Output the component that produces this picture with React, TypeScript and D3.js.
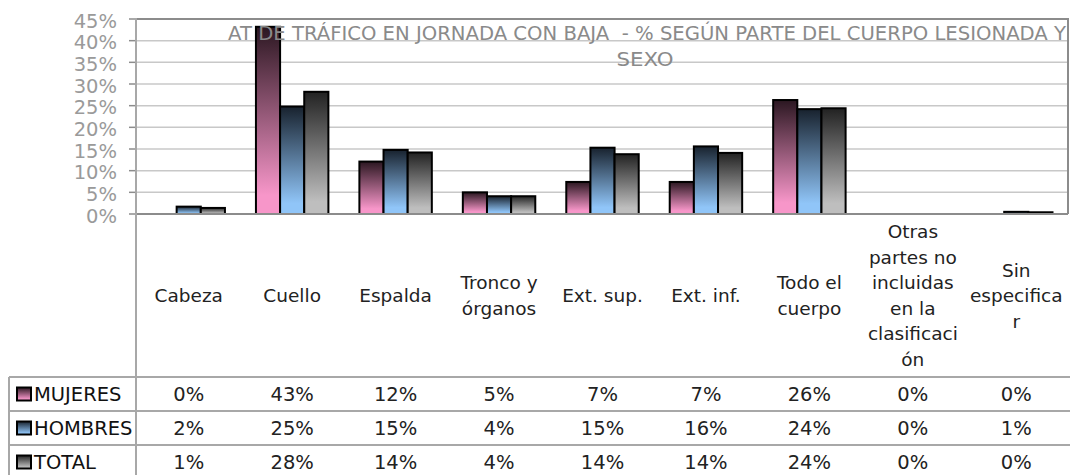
import React, { useEffect, useRef } from 'react'
import * as d3 from 'd3'

const categories = [
  'Cabeza',
  'Cuello',
  'Espalda',
  'Tronco y\nórganos',
  'Ext. sup.',
  'Ext. inf.',
  'Todo el\ncuerpo',
  'Otras\npartes no\nincluidas\nen la\nclasificaci\nón',
  'Sin\nespecifica\nr',
]
const seriesNames = ['MUJERES', 'HOMBRES', 'TOTAL']
const mujeres = [0, 43.2, 12.1, 5.0, 7.4, 7.4, 26.3, 0, 0]
const hombres = [1.7, 24.8, 14.8, 4.1, 15.3, 15.6, 24.2, 0, 0.5]
const total = [1.4, 28.2, 14.2, 4.1, 13.8, 14.1, 24.4, 0, 0.4]
const yTicks = [0, 5, 10, 15, 20, 25, 30, 35, 40, 45]
const titleLines = [
  'AT DE TRÁFICO EN JORNADA CON BAJA  - % SEGÚN PARTE DEL CUERPO LESIONADA Y',
  'SEXO',
]

// top (dark) and bottom (light) colours of each series gradient
const gradColors = [
  ['#2b1721', '#f796c9'],
  ['#18222e', '#90c5f8'],
  ['#222222', '#bebebe'],
]

export default function App() {
  const svgRef = useRef(null)

  let width = 1070
  let height = 475

  useEffect(() => {
    document.body.style.margin = '0'
    const font = '"DejaVu Sans", Verdana, sans-serif'

    let svg = d3.select(svgRef.current).attr('width', width).attr('height', height)
    svg.selectAll('*').remove()

    const left = 137
    const right = 1068
    const top = 19
    const base = 214
    const tableTop = 377
    const rowH = 34
    const tableLeft = 9

    let x = d3.scaleBand().domain(categories).range([left, right])
    let xs = d3
      .scaleBand()
      .domain(seriesNames)
      .range([15.5, x.bandwidth() - 15.5])
    let y = d3.scaleLinear().domain([0, 45]).range([base, top])

    let defs = svg.append('defs')
    gradColors.forEach((c, i) => {
      let g = defs
        .append('linearGradient')
        .attr('id', 'grad' + i)
        .attr('x1', 0)
        .attr('y1', 0)
        .attr('x2', 0)
        .attr('y2', 1)
      g.append('stop').attr('offset', 0).attr('stop-color', c[0])
      g.append('stop').attr('offset', 0.9).attr('stop-color', c[1])
      g.append('stop').attr('offset', 1).attr('stop-color', c[1])
    })

    // gridlines
    svg
      .append('g')
      .selectAll('line')
      .data(yTicks.slice(1))
      .enter()
      .append('line')
      .attr('x1', left)
      .attr('x2', right)
      .attr('y1', (d) => y(d))
      .attr('y2', (d) => y(d))
      .attr('stroke', '#c8c8c8')
      .attr('stroke-width', 1.5)

    // plot border top/right
    svg
      .append('path')
      .attr('d', `M${left},${y(45)}H${right}V${base}`)
      .attr('fill', 'none')
      .attr('stroke', '#8c8c8c')
      .attr('stroke-width', 2)

    // y axis ticks and labels
    let ya = svg.append('g')
    ya.selectAll('line')
      .data(yTicks)
      .enter()
      .append('line')
      .attr('x1', 129)
      .attr('x2', left)
      .attr('y1', (d) => y(d))
      .attr('y2', (d) => y(d))
      .attr('stroke', '#8c8c8c')
      .attr('stroke-width', 1.5)
    ya.selectAll('text')
      .data(yTicks)
      .enter()
      .append('text')
      .attr('x', 117)
      .attr('y', (d) => y(d) + 2)
      .attr('text-anchor', 'end')
      .attr('dominant-baseline', 'central')
      .attr('font-family', font)
      .attr('font-size', 19.5)
      .attr('fill', '#9a9a9a')
      .text((d) => d + '%')

    // bars
    const series = [mujeres, hombres, total]
    series.forEach((vals, si) => {
      svg
        .append('g')
        .selectAll('rect')
        .data(vals.map((v, i) => ({ v, c: categories[i] })).filter((d) => d.v > 0))
        .enter()
        .append('rect')
        .attr('x', (d) => x(d.c) + xs(seriesNames[si]))
        .attr('y', (d) => y(d.v))
        .attr('width', xs.bandwidth())
        .attr('height', (d) => base - y(d.v))
        .attr('fill', `url(#grad${si})`)
        .attr('stroke', '#000')
        .attr('stroke-width', 2)
    })

    // table lines
    let lines = svg.append('g').attr('stroke', '#a8a8a8').attr('stroke-width', 2)
    lines
      .append('line')
      .attr('x1', left)
      .attr('x2', right)
      .attr('y1', base)
      .attr('y2', base)
      .attr('stroke', '#8c8c8c')
    lines
      .append('line')
      .attr('x1', left - 1)
      .attr('x2', left - 1)
      .attr('y1', top)
      .attr('y2', height)
    ;[0, 1, 2].forEach((r) => {
      lines
        .append('line')
        .attr('x1', tableLeft)
        .attr('x2', width)
        .attr('y1', tableTop + r * rowH)
        .attr('y2', tableTop + r * rowH)
    })
    lines
      .append('line')
      .attr('x1', tableLeft)
      .attr('x2', tableLeft)
      .attr('y1', tableTop)
      .attr('y2', height)

    // category labels
    const lh = 25.5
    let cat = svg.append('g')
    categories.forEach((c) => {
      let parts = c.split('\n')
      let cy = (base + tableTop) / 2 - ((parts.length - 1) * lh) / 2
      let t = cat
        .append('text')
        .attr('text-anchor', 'middle')
        .attr('font-family', font)
        .attr('font-size', 18.5)
        .attr('fill', '#222')
      parts.forEach((p, j) => {
        t.append('tspan')
          .attr('x', x(c) + x.bandwidth() / 2)
          .attr('y', cy + j * lh)
          .attr('dominant-baseline', 'central')
          .text(p)
      })
    })

    // table rows
    series.forEach((vals, si) => {
      let cy = tableTop + si * rowH + rowH / 2
      let row = svg.append('g')
      row.append('rect')
        .attr('x', 17)
        .attr('y', cy - 6.5)
        .attr('width', 14)
        .attr('height', 13)
        .attr('fill', `url(#grad${si})`)
        .attr('stroke', '#000')
        .attr('stroke-width', 2)
      row.append('text')
        .attr('x', 34)
        .attr('y', cy)
        .attr('dominant-baseline', 'central')
        .attr('font-family', font)
        .attr('font-size', 19.5)
        .attr('fill', '#111')
        .text(seriesNames[si])
      row.selectAll('text.v')
        .data(vals)
        .enter()
        .append('text')
        .attr('class', 'v')
        .attr('x', (d, i) => x(categories[i]) + x.bandwidth() / 2)
        .attr('y', cy)
        .attr('text-anchor', 'middle')
        .attr('dominant-baseline', 'central')
        .attr('font-family', font)
        .attr('font-size', 19.5)
        .attr('fill', '#222')
        .text((d) => Math.round(d) + '%')
    })

    // title, drawn over the bars
    svg.append('text')
      .attr('x', 647)
      .attr('y', 40)
      .attr('text-anchor', 'middle')
      .attr('font-family', font)
      .attr('font-size', 19.5)
      .attr('fill', '#8a8a8a')
      .attr('textLength', 838)
      .attr('lengthAdjust', 'spacingAndGlyphs')
      .style('white-space', 'pre')
      .text(titleLines[0])
    svg.append('text')
      .attr('x', 645)
      .attr('y', 66)
      .attr('text-anchor', 'middle')
      .attr('font-family', font)
      .attr('font-size', 19.5)
      .attr('fill', '#8a8a8a')
      .attr('textLength', 57)
      .attr('lengthAdjust', 'spacingAndGlyphs')
      .text(titleLines[1])
  }, [])

  return <svg ref={svgRef} style={{ display: 'block' }} />
}
